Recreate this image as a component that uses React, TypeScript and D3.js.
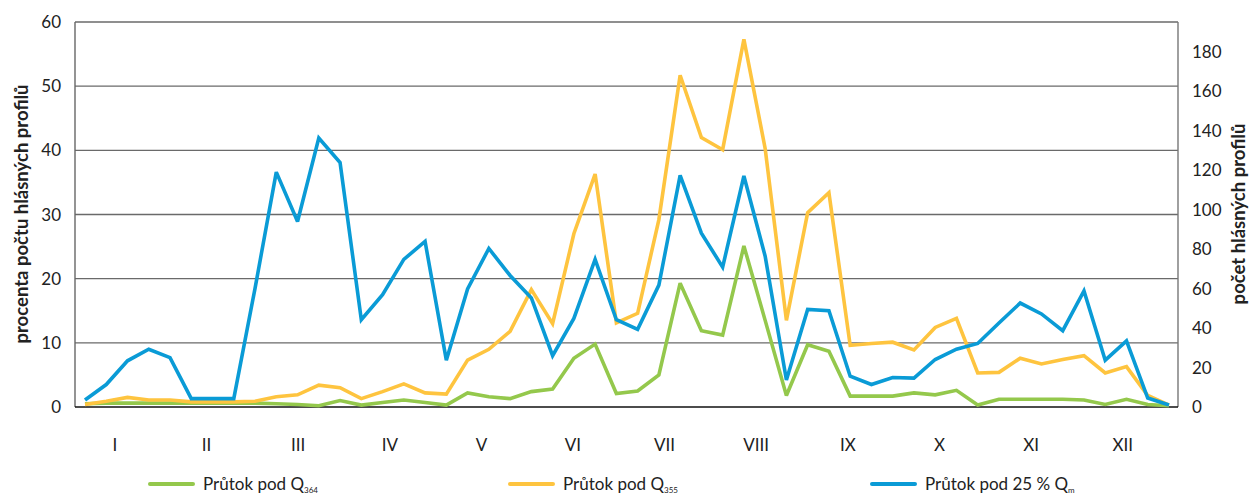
import React from 'react'
import * as d3 from 'd3'

// weekly values, percent of reporting profiles
const q364: number[] = [
  0.5, 0.6, 0.6, 0.6, 0.6, 0.6, 0.6, 0.6, 0.6, 0.5, 0.4, 0.2, 1.0,
  0.3, 0.7, 1.1, 0.7, 0.3, 2.2, 1.6, 1.3, 2.4, 2.8, 7.6, 9.8, 2.1,
  2.5, 5.0, 19.3, 11.9, 11.2, 25.1, 13.5, 1.8, 9.7, 8.7, 1.7, 1.7, 1.7,
  2.2, 1.9, 2.6, 0.3, 1.2, 1.2, 1.2, 1.2, 1.1, 0.4, 1.2, 0.4, 0.2
]
const q355: number[] = [
  0.4, 0.9, 1.5, 1.1, 1.1, 0.8, 0.8, 0.8, 0.9, 1.6, 1.9, 3.4, 3.0,
  1.3, 2.4, 3.6, 2.2, 2.0, 7.3, 9.0, 11.8, 18.3, 13.0, 27.0, 36.3, 13.1,
  14.6, 29.2, 51.7, 42.0, 40.1, 57.3, 40.3, 13.5, 30.3, 33.4, 9.6, 9.9, 10.1,
  8.9, 12.4, 13.8, 5.3, 5.4, 7.6, 6.7, 7.4, 8.0, 5.3, 6.3, 1.8, 0.3
]
const qm25: number[] = [
  1.1, 3.5, 7.2, 9.0, 7.7, 1.3, 1.3, 1.3, 18.5, 36.6, 28.9, 41.9, 38.1,
  13.6, 17.5, 23.0, 25.8, 7.3, 18.4, 24.7, 20.5, 17.0, 8.0, 13.8, 23.0, 13.6,
  12.1, 19.0, 36.1, 27.1, 21.8, 36.0, 23.5, 4.2, 15.2, 15.0, 4.8, 3.5, 4.6,
  4.5, 7.4, 9.0, 9.9, 13.1, 16.2, 14.5, 11.9, 18.1, 7.3, 10.3, 1.4, 0.3
]

const months = ['I', 'II', 'III', 'IV', 'V', 'VI', 'VII', 'VIII', 'IX', 'X', 'XI', 'XII']
const leftTicks = [0, 10, 20, 30, 40, 50, 60]
const rightTicks = [0, 20, 40, 60, 80, 100, 120, 140, 160, 180]

const series = [
  { name: 'Průtok pod Q', sub: '364', values: q364, color: '#94c84c' },
  { name: 'Průtok pod Q', sub: '355', values: q355, color: '#fec43f' },
  { name: 'Průtok pod 25 % Q', sub: 'm', values: qm25, color: '#0a9bd6' }
]

const W = 1251
const H = 495
const box = { left: 75, right: 1178, top: 22, bottom: 407 }
const FONT = 'Lato, "Open Sans", sans-serif'

export default function App() {
  const x = d3.scaleLinear().domain([0, q364.length - 1]).range([85, 1169])
  const y = d3.scaleLinear().domain([0, 60]).range([box.bottom, box.top])
  const yRight = d3.scaleLinear().domain([0, 195]).range([box.bottom, box.top])

  const line = d3
    .line<number>()
    .x((_, i) => x(i))
    .y((d) => y(d))

  // month label sits near the middle of each month's weeks
  const monthX = (i: number) => x(1.41 + 4.31 * i)

  const legendX = [150, 510, 872]

  return (
    <svg
      width={W}
      height={H}
      style={{ position: 'absolute', left: 0, top: 0, background: '#fff' }}
      fontFamily={FONT}
    >
      {/* grid */}
      {leftTicks.filter((t) => t > 0).map((t) => (
        <line
          key={t}
          x1={box.left}
          x2={box.right}
          y1={y(t)}
          y2={y(t)}
          stroke="#6a6a6a"
          strokeWidth={1.4}
        />
      ))}
      <line x1={box.right} x2={box.right} y1={box.top} y2={box.bottom} stroke="#777" strokeWidth={1.4} />
      <line x1={box.left} x2={box.left} y1={box.top} y2={box.bottom} stroke="#666" strokeWidth={1.4} />
      <line x1={box.left} x2={box.right} y1={box.bottom} y2={box.bottom} stroke="#111" strokeWidth={1.6} />

      {/* left axis */}
      {leftTicks.map((t) => (
        <text key={t} x={61} y={y(t) + 6} textAnchor="end" fontSize={17} fill="#222">
          {t}
        </text>
      ))}
      <text
        transform={`translate(28, 214) rotate(-90)`}
        textAnchor="middle"
        fontSize={18.5}
        fontWeight="bold"
        fill="#222"
      >
        procenta počtu hlásných profilů
      </text>

      {/* right axis */}
      {rightTicks.map((t) => (
        <text key={t} x={1192} y={yRight(t) + 6} textAnchor="start" fontSize={17} fill="#222">
          {t}
        </text>
      ))}
      <text
        transform={`translate(1245, 214) rotate(-90)`}
        textAnchor="middle"
        fontSize={18.5}
        fontWeight="bold"
        fill="#222"
      >
        počet hlásných profilů
      </text>

      {/* months */}
      {months.map((m, i) => (
        <text key={m} x={monthX(i)} y={451} textAnchor="middle" fontSize={17} fill="#222">
          {m}
        </text>
      ))}

      {/* series */}
      {series.map((s) => (
        <path
          key={s.sub}
          d={line(s.values) || ''}
          fill="none"
          stroke={s.color}
          strokeWidth={3.6}
          strokeLinejoin="miter"
          strokeMiterlimit={3}
        />
      ))}

      {/* legend */}
      {series.map((s, i) => (
        <g key={s.sub} transform={`translate(${legendX[i]}, 484)`}>
          <line x1={0} x2={43} y1={0} y2={0} stroke={s.color} strokeWidth={4} strokeLinecap="round" />
          <text x={53} y={6} fontSize={17} fill="#222">
            {s.name}
            <tspan fontSize={8} dy={2.5}>
              {s.sub}
            </tspan>
          </text>
        </g>
      ))}
    </svg>
  )
}
